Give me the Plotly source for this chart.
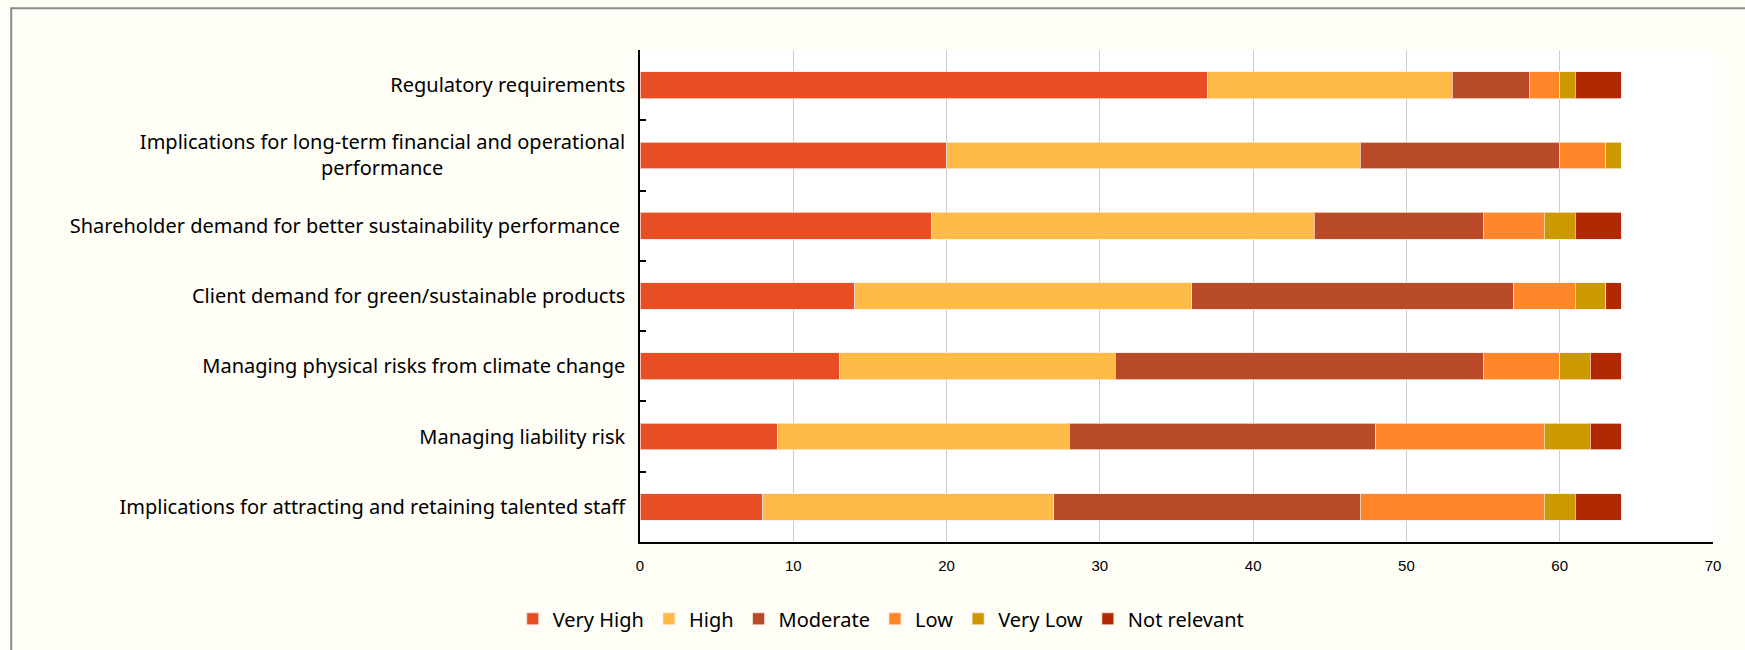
import plotly.graph_objects as go

# Drivers of climate-related decisions, number of respondents by rating
categories = [
    "Regulatory requirements",
    "Implications for long-term financial and operational<br>performance",
    "Shareholder demand for better sustainability performance ",
    "Client demand for green/sustainable products",
    "Managing physical risks from climate change",
    "Managing liability risk",
    "Implications for attracting and retaining talented staff",
]

very_high = [37, 20, 19, 14, 13, 9, 8]
high = [16, 27, 25, 22, 18, 19, 19]
moderate = [5, 13, 11, 21, 24, 20, 20]
low = [2, 3, 4, 4, 5, 11, 12]
very_low = [1, 1, 2, 2, 2, 3, 2]
not_relevant = [3, 0, 3, 1, 2, 2, 3]

series_names = ["Very High", "High", "Moderate", "Low", "Very Low", "Not relevant"]
series_values = [very_high, high, moderate, low, very_low, not_relevant]
series_colors = ["#E84E24", "#FFBB47", "#B84A27", "#FF8629", "#CC9900", "#B22800"]

x_ticks = [0, 10, 20, 30, 40, 50, 60, 70]

# second line of the wrapped label is padded so it sits centred under the first
pad = "\u00a0" * 35
categories[1] = categories[1] + pad

label_font = "Noto Sans, sans-serif"
tick_font = "Liberation Sans Narrow, Arial Narrow, Liberation Sans, sans-serif"

fig = go.Figure()
for name, vals, col in zip(series_names, series_values, series_colors):
    fig.add_trace(go.Bar(
        name=name,
        y=categories,
        x=vals,
        orientation="h",
        marker=dict(color=col, line=dict(color="rgba(255,235,225,0.7)", width=1)),
    ))

fig.update_layout(
    width=1745,
    height=650,
    barmode="stack",
    bargap=0.62,
    paper_bgcolor="#FEFEF7",
    plot_bgcolor="#FFFFFF",
    margin=dict(l=640, r=32, t=50, b=108),
    showlegend=True,
    legend=dict(
        orientation="h",
        traceorder="normal",
        xref="container",
        yref="container",
        x=0.505,
        xanchor="center",
        y=0.048,
        yanchor="middle",
        font=dict(family=label_font, size=20, color="#000000"),
        itemwidth=30,
        tracegroupgap=0,
        bgcolor="rgba(0,0,0,0)",
    ),
    shapes=[
        dict(
            type="rect",
            xref="paper",
            yref="paper",
            x0=-0.586,
            x1=2.0,
            y0=-1.0,
            y1=1.085,
            line=dict(color="#8C8C8C", width=2),
            fillcolor="rgba(0,0,0,0)",
            layer="below",
        )
    ],
)

fig.update_xaxes(
    range=[0, 70],
    tickvals=x_ticks,
    ticktext=[str(v) for v in x_ticks],
    showgrid=True,
    gridcolor="#CDCDCD",
    gridwidth=1,
    showline=True,
    linecolor="#000000",
    linewidth=2,
    ticks="",
    ticklabelstandoff=9,
    tickfont=dict(family=tick_font, size=15, color="#000000"),
    zeroline=False,
)

fig.update_yaxes(
    autorange="reversed",
    showline=True,
    linecolor="#000000",
    linewidth=1.5,
    ticks="inside",
    tickson="boundaries",
    ticklen=6,
    tickcolor="#000000",
    tickwidth=1.5,
    ticklabelstandoff=9,
    showgrid=False,
    tickfont=dict(family=label_font, size=20, color="#000000"),
)

fig.write_html("out.html")
